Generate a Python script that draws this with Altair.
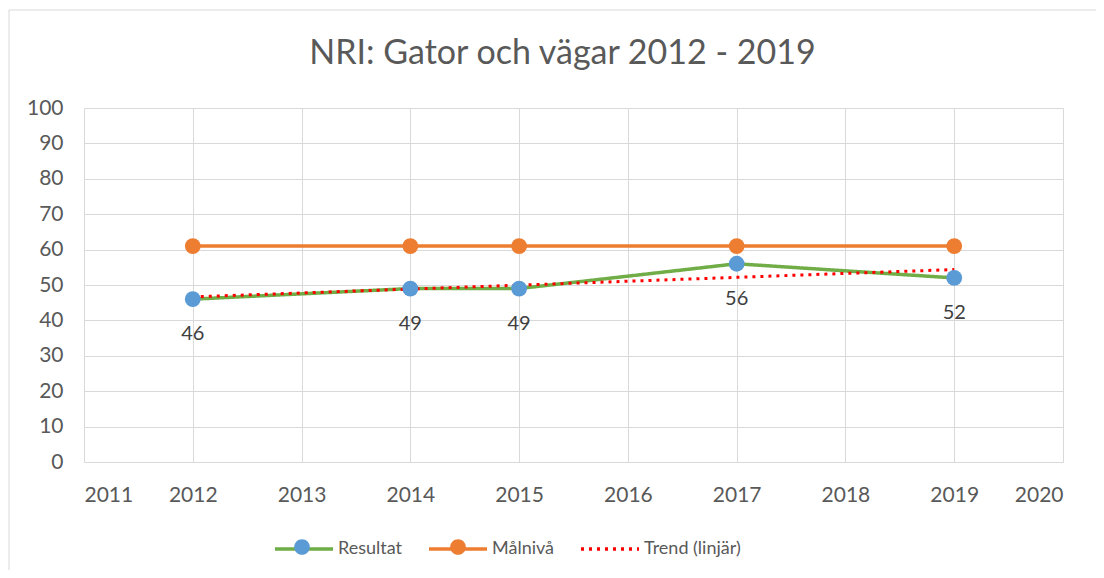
import altair as alt
import pandas as pd

# ---- data ----
years = [2012, 2014, 2015, 2017, 2019]
resultat = [46, 49, 49, 56, 52]
malniva = [61, 61, 61, 61, 61]
series_names = ["Resultat", "Målnivå", "Trend (linjär)"]
line_colors = ["#70ad47", "#ed7d31", "#ff0000"]
line_dashes = [[1, 0], [1, 0], [3, 5]]
marker_colors = ["#5b9bd5", "#ed7d31", "transparent"]
x_ticks = list(range(2011, 2021))
y_ticks = list(range(0, 101, 10))
title_text = "NRI: Gator och vägar 2012 - 2019"

FONT = "Lato"
SUFFIX = "~"

rows = []
for yr, r, m in zip(years, resultat, malniva):
    rows.append({"year": yr, "value": r, "series": series_names[0], "series_f": series_names[0] + SUFFIX})
    rows.append({"year": yr, "value": m, "series": series_names[1], "series_f": series_names[1] + SUFFIX})
df = pd.DataFrame(rows)

x_enc = alt.X("year:Q", scale=alt.Scale(domain=[2011, 2020], nice=False, zero=False),
              axis=alt.Axis(values=x_ticks, format="d", title=None, labelPadding=22))
y_enc = alt.Y("value:Q", scale=alt.Scale(domain=[0, 100], nice=False),
              axis=alt.Axis(values=y_ticks, title=None, labelPadding=21))

LEG_X = 189
LEG_Y = 410
SYM = 3364
LEG_FS = 18
COL_PAD = 19
LAB_OFF = 3


def line_legend():
    return alt.Legend(orient="none", legendX=LEG_X, legendY=LEG_Y,
                      direction="horizontal", title=None,
                      symbolType="stroke", symbolSize=SYM,
                      symbolStrokeWidth=3.5, columnPadding=COL_PAD,
                      labelOffset=LAB_OFF, labelFontSize=LEG_FS, labelFont=FONT,
                      labelColor="#595959", zindex=1)


color_enc = alt.Color("series:N", scale=alt.Scale(domain=series_names, range=line_colors),
                      legend=line_legend())
dash_enc = alt.StrokeDash("series:N", scale=alt.Scale(domain=series_names, range=line_dashes),
                          legend=line_legend())

base = alt.Chart(df)

lines = base.mark_line(strokeWidth=3.5).encode(x=x_enc, y=y_enc, color=color_enc, strokeDash=dash_enc)

trend = base.transform_filter(
    alt.datum.series == series_names[0]
).transform_regression(
    "year", "value", method="linear"
).transform_calculate(
    series=f"'{series_names[2]}'"
).mark_line(strokeWidth=3).encode(x=x_enc, y=y_enc, color=color_enc, strokeDash=dash_enc)

# marker-only legend laid over the line legend (circles on the line symbols, no text)
circle_path = "M0.27,0A0.27,0.27,0,1,1,-0.27,0A0.27,0.27,0,1,1,0.27,0Z"
points = base.mark_point(filled=True, size=250, opacity=1).encode(
    x=x_enc, y=y_enc,
    fill=alt.Fill("series_f:N",
                  scale=alt.Scale(domain=[s + SUFFIX for s in series_names], range=marker_colors),
                  legend=alt.Legend(orient="none", legendX=LEG_X, legendY=LEG_Y,
                                    direction="horizontal", title=None,
                                    symbolType=circle_path, symbolSize=SYM,
                                    symbolStrokeWidth=0, symbolOpacity=1, columnPadding=98,
                                    labelOffset=0, labelFontSize=LEG_FS, labelFont=FONT,
                                    labelExpr="''",
                                    zindex=2)),
)

labels = base.transform_filter(
    alt.datum.series == series_names[0]
).mark_text(dy=35, baseline="middle", fontSize=20, font=FONT, color="#404040").encode(
    x=x_enc, y=y_enc, text=alt.Text("value:Q")
)

border_data = alt.Data(values=[{"k": 1}])
border_left = alt.Chart(border_data).mark_rule(color="#d9d9d9", strokeWidth=1).encode(
    x=alt.value(-75), y=alt.value(-98), y2=alt.value(470))
border_top = alt.Chart(border_data).mark_rule(color="#d9d9d9", strokeWidth=1).encode(
    x=alt.value(-75), x2=alt.value(1012), y=alt.value(-98))

chart = alt.layer(border_left, border_top, lines, trend, points, labels).properties(
    width=979, height=354,
    padding={"left": 76, "top": 100, "right": 33, "bottom": 108},
    autosize=alt.AutoSizeParams(type="none"),
    title=alt.TitleParams(title_text, fontSize=34, font=FONT, fontWeight="normal",
                          color="#595959", anchor="middle", frame="group",
                          offset=0, dy=61, dx=-11),
).configure_view(stroke=None).configure_axis(
    grid=True, gridColor="#d9d9d9", gridWidth=1, domain=False, ticks=False,
    labelFont=FONT, labelFontSize=21, labelColor="#595959"
)

chart.save("out.html", embed_options={"renderer": "svg", "actions": False})
